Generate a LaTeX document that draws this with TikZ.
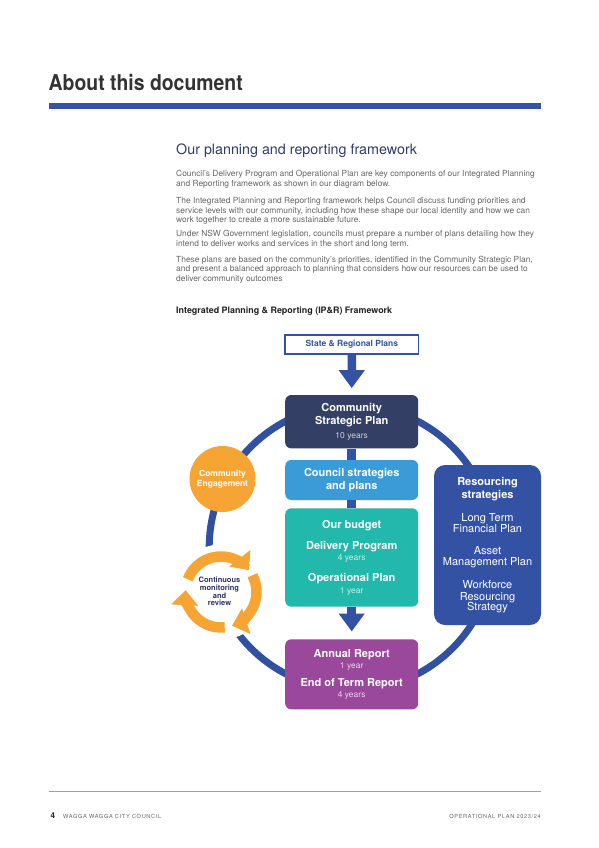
\documentclass[tikz,border=0pt]{standalone}
\usepackage{fontspec}
\setmainfont{TeX Gyre Heros}
\newfontfamily\titlefont[FakeStretch=0.89]{TeX Gyre Heros}
\newfontfamily\footfont[LetterSpace=12]{TeX Gyre Heros}
\usetikzlibrary{arrows.meta}
\definecolor{titlegray}{HTML}{333333}
\definecolor{barblue}{HTML}{3453A3}
\definecolor{headnavy}{HTML}{2E3C6C}
\definecolor{bodygray}{HTML}{666666}
\definecolor{boldtext}{HTML}{222222}
\definecolor{resblue}{HTML}{3352A3}
\definecolor{ringblue}{HTML}{3150A0}
\definecolor{cspnavy}{HTML}{343F66}
\definecolor{lightblue}{HTML}{3A9BD7}
\definecolor{tealc}{HTML}{22B8AC}
\definecolor{purplec}{HTML}{9A489B}
\definecolor{orangec}{HTML}{F6A434}
\definecolor{cycnavy}{HTML}{2E3560}
\definecolor{footgray}{HTML}{A0A0A0}
\newcommand\subl[2]{{\fontsize{8.5}{11.4}\selectfont\mdseries\color{#1}#2}}
\newcommand\rl[1]{{\mdseries #1}}
\begin{document}
\begin{tikzpicture}[x=1pt,y=-1pt,
  body/.style={anchor=north west, inner sep=0, align=left, font=\fontsize{8.4}{9.8}\selectfont, text=bodygray},
  box/.style={rounded corners=6pt, minimum width=133pt, align=center, text=white, inner sep=0,
              font=\fontsize{11}{11.4}\selectfont\bfseries},
  flow/.style={draw=resblue, line width=8.5pt},
  flowtip/.style={flow, -{Triangle[width=25pt,length=18pt]}},
  cycarrow/.style={draw=orangec, line width=10.5pt, -{Triangle[width=26pt,length=15pt]}},
  foot/.style={anchor=base west, inner sep=0, text=bodygray, font=\footfont\fontsize{5.6}{6}\selectfont}
]
\fill[white] (0,0) rectangle (599,848);
\useasboundingbox (0,0) rectangle (599,848);

% header
\node[anchor=base west, inner sep=0, text=titlegray,
      font=\titlefont\bfseries\fontsize{21.8}{24}\selectfont] (title) at (48.5,90.7) {About this document};
\fill[barblue] (48.5,102.7) rectangle (541,109.3);

\node[anchor=base west, inner sep=0, text=headnavy, font=\fontsize{14.3}{16}\selectfont] (head) at (176,154)
  {Our planning and reporting framework};

\node[body] (p1) at (176,170.4) {Council’s Delivery Program and Operational Plan are key components of our Integrated Planning\\
and Reporting framework as shown in our diagram below.};
\node[body] (p2) at (176,196.9) {The Integrated Planning and Reporting framework helps Council discuss funding priorities and\\
service levels with our community, including how these shape our local identity and how we can\\
work together to create a more sustainable future.};
\node[body] (p3) at (176,230.4) {Under NSW Government legislation, councils must prepare a number of plans detailing how they\\
intend to deliver works and services in the short and long term.};
\node[body] (p4) at (176,255.6) {These plans are based on the community’s priorities, identified in the Community Strategic Plan,\\
and present a balanced approach to planning that considers how our resources can be used to\\
deliver community outcomes};
\node[body, text=boldtext, font=\fontsize{8.9}{9.8}\selectfont\bfseries] (iprh) at (176,306.5)
  {Integrated Planning \& Reporting (IP\&R) Framework};

% ring
\coordinate (rc) at (351.7,547.5);
\draw[ringblue, line width=7pt] (rc) circle[radius=142.5pt];

% cycle background
\coordinate (cc) at (221,592);
\fill[white] (cc) circle[radius=47.5pt];

% boxes
\node[draw=resblue, line width=1.8pt, fill=white, minimum width=133.2pt, minimum height=18.8pt, inner sep=0,
      text=resblue, font=\fontsize{8.5}{10}\selectfont\bfseries] (state) at (351.8,344.4) {State \& Regional Plans};

\node[box, fill=cspnavy, minimum height=53.3pt] (csp) at (351.7,421.7)
  {Community\\[2pt]Strategic Plan\\[2.6pt]\subl{white!75!cspnavy}{10 years}};
\node[box, fill=lightblue, minimum height=40pt] (csr) at (351.7,480)
  {Council strategies\\[1.9pt]and plans};
\node[box, fill=tealc, minimum height=98.4pt] (bud) at (351.7,557.5)
  {Our budget\\[9.6pt]Delivery Program\\\subl{white!75!tealc}{4 years}\\[9.6pt]Operational Plan\\\subl{white!75!tealc}{1 year}};
\node[box, fill=purplec, minimum height=70pt] (ann) at (351.7,674.3)
  {Annual Report\\[0.3pt]\subl{white!75!purplec}{1 year}\\[5.9pt]End of Term Report\\[0.3pt]\subl{white!75!purplec}{4 years}};
\node[box, fill=resblue, rounded corners=11pt, minimum width=107pt, minimum height=160pt] (res) at (487.5,545)
  {Resourcing\\[1.9pt]strategies\\[11pt]\rl{Long Term}\\[0.2pt]\rl{Financial Plan}\\[10.3pt]\rl{Asset}\\[-0.4pt]\rl{Management Plan}\\[11.9pt]\rl{Workforce}\\\rl{Resourcing}\\[-1.1pt]\rl{Strategy}};

% connectors
\draw[flowtip, shorten >=6.7pt] (state.south) -- (csp.north);
\draw[flow] (csp.south) -- (csr.north);
\draw[flow] (csr.south) -- (bud.north);
\draw[flowtip, shorten >=7.6pt] (bud.south) -- (ann.north);

% community engagement
\node[circle, fill=orangec, minimum size=66pt, inner sep=0, align=center, text=white,
      font=\fontsize{8.5}{9.7}\selectfont\bfseries] (eng) at (222.5,479) {Community\\Engagement};

% continuous monitoring cycle
\node[inner sep=0, align=center, text=cycnavy, font=\fontsize{7.5}{7.8}\selectfont\bfseries] (cyc) at (219.5,591.5)
  {Continuous\\monitoring\\and\\review};
\draw[cycarrow] ([shift={(159:35.5pt)}]cc) arc[start angle=159, end angle=38, radius=35.5pt];
\draw[cycarrow] ([shift={(28:35.5pt)}]cc) arc[start angle=28, end angle=-72, radius=35.5pt];
\draw[cycarrow] ([shift={(-84:35.5pt)}]cc) arc[start angle=-84, end angle=-183, radius=35.5pt];

% footer
\draw[footgray, line width=0.8pt] (48.5,791.5) -- (541,791.5);
\node[anchor=base west, inner sep=0, text=boldtext, font=\bfseries\fontsize{8}{8}\selectfont] (pg) at (50.5,818.5) {4};
\node[foot] (council) at (63,818.5) {WAGGA WAGGA CITY COUNCIL};
\node[foot, anchor=base east] (plan) at (541,818.5) {OPERATIONAL PLAN 2023/24};
\end{tikzpicture}
\end{document}
